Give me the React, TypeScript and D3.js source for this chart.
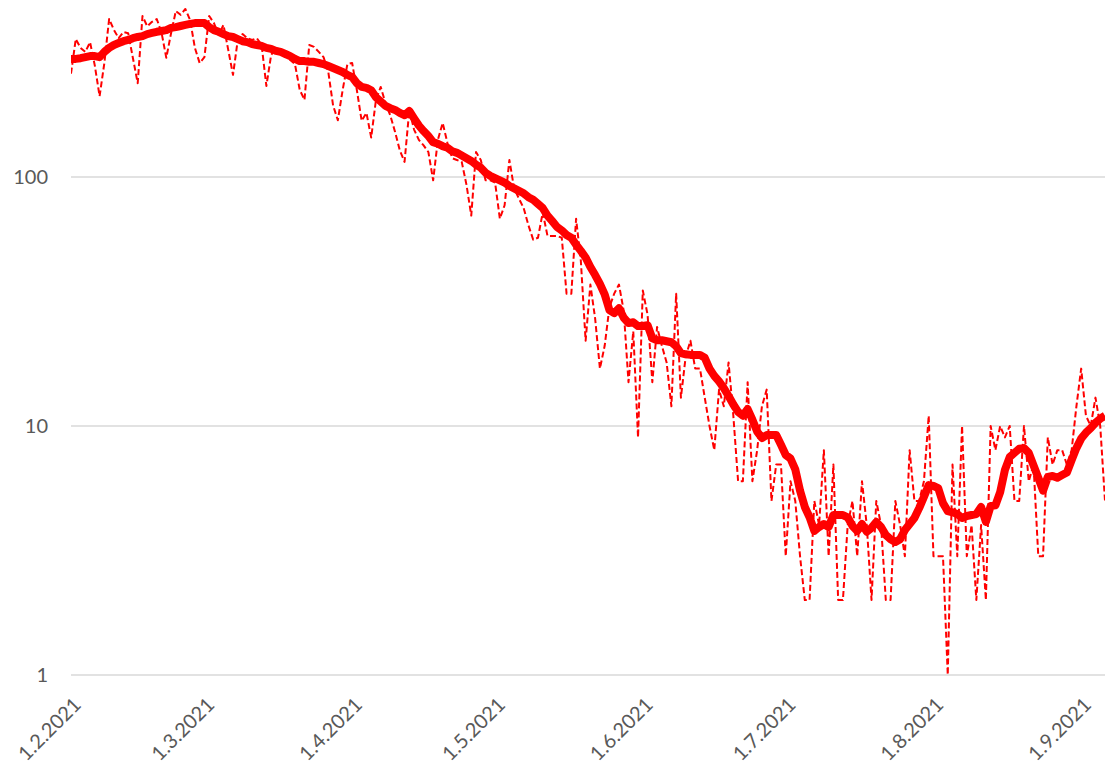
import React from "react";
import * as d3 from "d3";

// Daily values, one per day starting 29.1.2021
const dailyCases: number[] = [
  260, 358, 330, 318, 348, 280, 211, 287, 431, 390, 361, 382, 378, 300, 238, 443, 403, 420, 431, 380,
  301, 378, 464, 448, 473, 427, 330, 287, 303, 443, 415, 372, 408, 324, 257, 355, 375, 361, 355, 361,
  339, 232, 309, 330, 324, 318, 295, 284, 224, 204, 339, 333, 318, 303, 264, 194, 169, 223, 284, 287,
  223, 168, 181, 144, 204, 230, 198, 177, 152, 128, 115, 186, 155, 141, 134, 126, 97, 141, 165, 137,
  119, 117, 115, 93, 70, 126, 117, 97, 97, 95, 68, 77, 117, 90, 82, 75, 64, 56, 57, 72,
  58, 58, 58, 57, 34, 34, 68, 46, 22, 37, 27, 17, 21, 30, 34, 37, 29, 15, 24, 9,
  35, 28, 15, 25, 21, 18, 12, 34, 13, 19, 22, 17, 17, 13, 10, 8, 14, 12, 18, 11,
  6, 6, 15, 6, 8, 12, 14, 5, 7, 7, 3, 6, 5, 3, 2, 2, 5, 4, 8, 3,
  7, 2, 2, 4, 5, 3, 6, 4, 2, 5, 4, 2, 2, 5, 4, 3, 8, 5, 5, 6,
  11, 3, 3, 3, 1, 7, 3, 10, 3, 4, 2, 4, 2, 10, 8, 10, 9, 10, 5, 5,
  10, 6, 7, 3, 3, 9, 7, 8, 8, 7, 8, 12, 17, 11, 10, 13, 10, 5,
];

// 7-day average (thick line)
const weeklyAverage: number[] = [
  298, 298, 300, 303, 306, 306, 303, 318, 330, 339, 345, 351, 355, 361, 365, 368, 375, 379, 383, 386,
  389, 397, 400, 404, 408, 412, 415, 415, 415, 400, 389, 383, 375, 368, 365, 358, 351, 348, 342, 339,
  336, 330, 327, 321, 318, 312, 306, 298, 292, 292, 290, 290, 287, 284, 279, 274, 269, 264, 257, 252,
  238, 230, 228, 223, 209, 201, 193, 189, 186, 181, 177, 184, 172, 161, 153, 146, 138, 136, 133, 131,
  127, 125, 122, 119, 116, 112, 109, 104, 101, 99, 97, 95, 92, 90, 88, 86, 83, 81, 78, 75,
  70, 66.5, 63, 61, 58.5, 57, 53.5, 50.5, 47.5, 43.5, 40.4, 37.2, 33.8, 29.2, 28.4, 29.7, 27.2, 25.9, 26.1, 25.2,
  25.2, 25.4, 22.5, 22.1, 22.1, 21.9, 21.7, 20.9, 19.6, 19.4, 19.3, 19.3, 19.3, 18.8, 17.0, 15.9, 15.1, 14.2, 13.2, 12.2,
  11.4, 11.0, 11.7, 10.6, 9.5, 8.95, 9.2, 9.2, 9.2, 8.4, 7.65, 7.4, 6.7, 5.5, 4.73, 4.3, 3.79, 3.93, 4.04, 3.93,
  4.39, 4.39, 4.39, 4.3, 3.97, 3.79, 4.04, 3.76, 3.9, 4.12, 3.93, 3.65, 3.51, 3.42, 3.51, 3.82, 4.04, 4.27, 4.68, 5.19,
  5.79, 5.74, 5.63, 4.9, 4.55, 4.5, 4.43, 4.27, 4.35, 4.39, 4.43, 4.73, 4.12, 4.77, 4.8, 5.43, 6.66, 7.5, 7.8, 8.1,
  8.15, 7.8, 6.95, 6.2, 5.5, 6.25, 6.3, 6.2, 6.35, 6.5, 7.3, 8.15, 8.9, 9.4, 9.8, 10.3, 10.7, 11.0,
];

const xTickLabels: string[] = [
  "1.2.2021", "1.3.2021", "1.4.2021", "1.5.2021",
  "1.6.2021", "1.7.2021", "1.8.2021", "1.9.2021",
];
const yTickValues: number[] = [1, 10, 100];
const yTickLabels: string[] = ["1", "10", "100"];

const W = 1106;
const H = 770;
const LEFT = 71;
const RIGHT = 1105;
const BOTTOM = 675;
const DECADE = 249;

const DAY = 864e5;
const START = Date.UTC(2021, 0, 29);

function parseLabel(s: string): Date {
  const [d, m, y] = s.split(".").map(Number);
  return new Date(Date.UTC(y, m - 1, d));
}

export default function App() {
  const dates = dailyCases.map((_, i) => new Date(START + i * DAY));
  const x = d3
    .scaleUtc()
    .domain([new Date(START), dates[dates.length - 1]])
    .range([LEFT, RIGHT]);
  const y = d3
    .scaleLog()
    .domain([1, 1000])
    .range([BOTTOM, BOTTOM - 3 * DECADE]);

  const line = d3
    .line<number>()
    .x((_, i) => x(dates[i]))
    .y((v) => y(v));

  const font = "Lato, 'Open Sans', sans-serif";
  const grey = "#595959";

  return (
    <svg
      width={W}
      height={H}
      style={{ position: "absolute", left: 0, top: 0, background: "#fff" }}
    >
      <defs>
        <clipPath id="plot">
          <rect x={LEFT} y={0} width={RIGHT - LEFT} height={BOTTOM + 5} />
        </clipPath>
      </defs>
      {yTickValues.map((v, i) => (
        <g key={v}>
          <line
            x1={LEFT}
            x2={RIGHT}
            y1={y(v)}
            y2={y(v)}
            stroke="#d9d9d9"
            strokeWidth={1.5}
          />
          <text
            x={48}
            y={y(v)}
            dy="0.36em"
            textAnchor="end"
            fontFamily={font}
            fontSize={20}
            fill={grey}
          >
            {yTickLabels[i]}
          </text>
        </g>
      ))}
      <g clipPath="url(#plot)">
        <path
          d={line(dailyCases) || ""}
          fill="none"
          stroke="#ff0000"
          strokeWidth={2}
          strokeDasharray="6 3"
          strokeLinejoin="round"
        />
        <path
          d={line(weeklyAverage) || ""}
          fill="none"
          stroke="#ff0000"
          strokeWidth={8}
          strokeLinejoin="round"
        />
      </g>
      {xTickLabels.map((lab) => {
        const tx = x(parseLabel(lab));
        return (
          <text
            key={lab}
            transform={`translate(${tx - 3},${706}) rotate(-45)`}
            textAnchor="end"
            fontFamily={font}
            fontSize={20}
            fill={grey}
          >
            {lab}
          </text>
        );
      })}
    </svg>
  );
}
